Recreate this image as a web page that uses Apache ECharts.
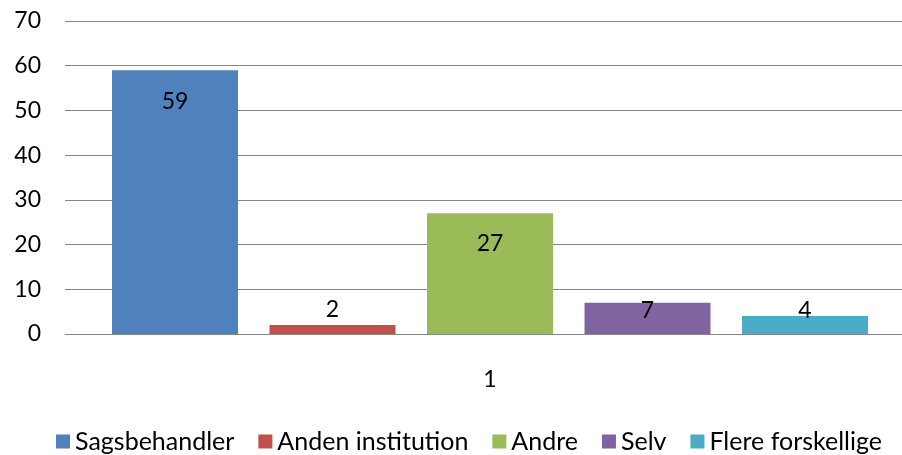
<!DOCTYPE html>
<html>
<head>
<meta charset="utf-8">
<script src="https://cdn.jsdelivr.net/npm/echarts@6/dist/echarts.min.js"></script>
<style>
  html, body { margin: 0; padding: 0; background: #fff; }
  #chart-container { width: 902px; height: 455px; }
</style>
</head>
<body>
<div id="chart-container"></div>
<script>
var categories = ['1'];
var seriesNames = ['Sagsbehandler', 'Anden institution', 'Andre', 'Selv', 'Flere forskellige'];
var seriesValues = [59, 2, 27, 7, 4];
var colors = ['#4F81BD', '#C0504D', '#9BBB59', '#8064A2', '#4BACC6'];
// label offset from the bar top, small bars get their label pushed up
var labelOffsets = [31, -15, 30, 8, -6];
var fontFamily = 'Lato, "Open Sans", sans-serif';

var dom = document.getElementById('chart-container');
var myChart = echarts.init(dom);

var series = seriesNames.map(function (name, i) {
  return {
    name: name,
    type: 'bar',
    barWidth: 126,
    barGap: '25%',
    itemStyle: { color: colors[i] },
    label: {
      show: true,
      position: ['50%', labelOffsets[i]],
      align: 'center',
      verticalAlign: 'middle',
      color: '#000',
      fontSize: 23,
      fontFamily: fontFamily
    },
    data: [seriesValues[i]]
  };
});

var option = {
  animation: false,
  grid: {
    left: 65,
    width: 850,
    top: 21,
    bottom: 121,
    outerBoundsMode: 'none'
  },
  legend: {
    top: 429,
    left: 56,
    padding: 0,
    itemWidth: 14,
    itemHeight: 14,
    itemGap: 24,
    icon: 'rect',
    textStyle: { fontSize: 25, color: '#000', fontFamily: fontFamily },
    data: seriesNames
  },
  xAxis: {
    type: 'category',
    data: categories,
    axisTick: { show: false },
    axisLine: { lineStyle: { color: '#868686', width: 1 } },
    axisLabel: { margin: 34, fontSize: 23, color: '#000', fontFamily: fontFamily }
  },
  yAxis: {
    type: 'value',
    min: 0,
    max: 70,
    interval: 10,
    axisLine: { show: false },
    axisTick: { show: false },
    axisLabel: { margin: 24, fontSize: 23, color: '#000', fontFamily: fontFamily },
    splitLine: { lineStyle: { color: '#868686', width: 1 } }
  },
  series: series
};

myChart.setOption(option);
</script>
</body>
</html>
